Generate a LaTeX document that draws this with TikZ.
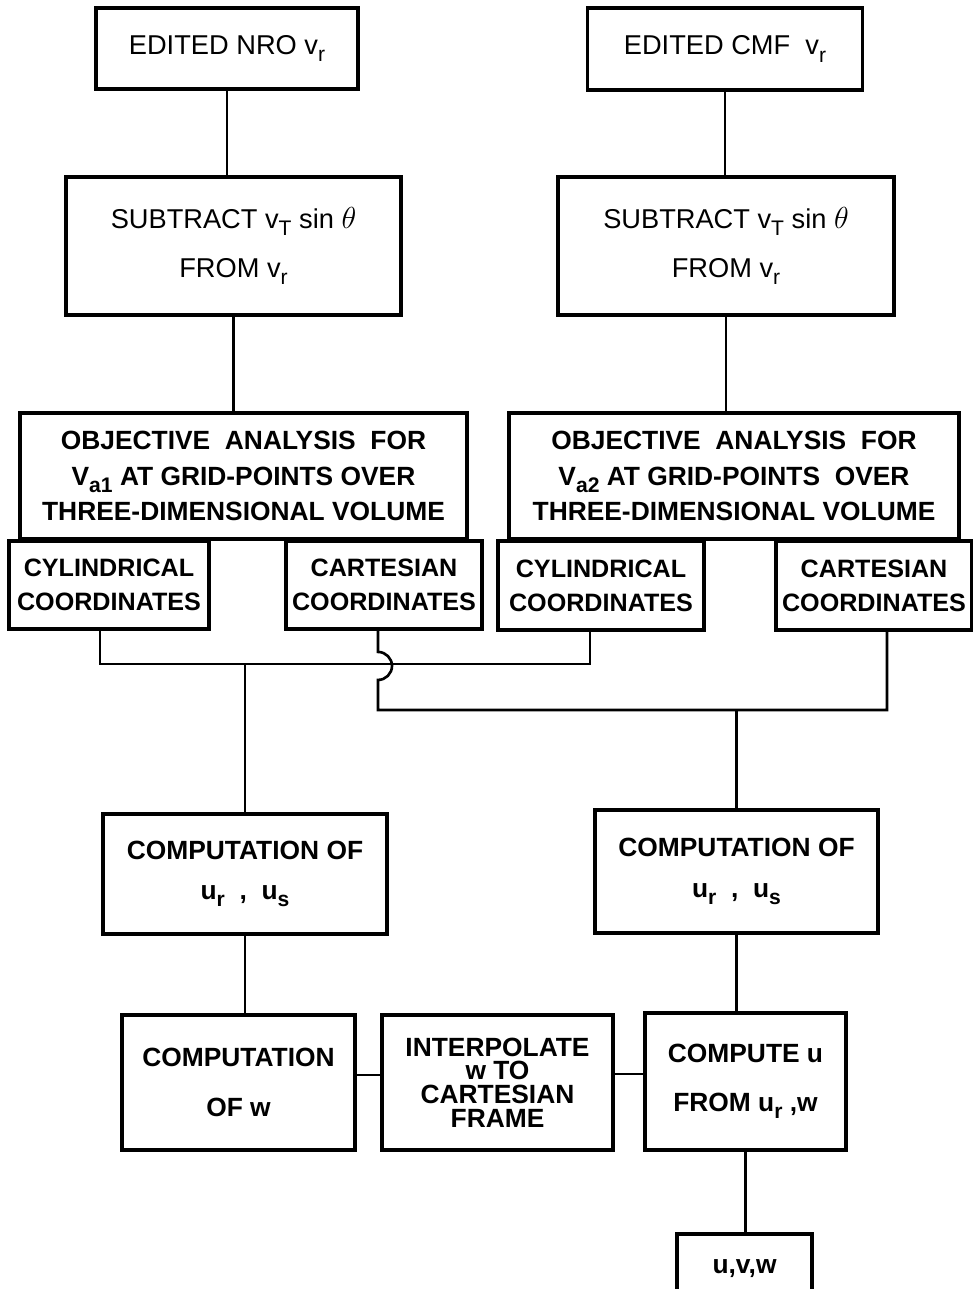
\documentclass[tikz,border=0pt]{standalone}
\usepackage{fontspec}
\newfontfamily\lettering{Liberation Sans}
\newcommand{\lsub}[2]{#1\raisebox{-0.5ex}{\fontsize{12}{12}\selectfont #2}}
\newcommand{\ltheta}{{\fontsize{19}{19}\selectfont$\theta$}}

\begin{document}
\begin{tikzpicture}[
  every node/.style={rectangle, sharp corners, align=center},
  box/.style={draw=black, line width=2.2pt, inner sep=2pt,
    font=\lettering\fontsize{15.5}{20}\selectfont},
  heavybox/.style={box, font=\lettering\bfseries\fontsize{15}{20}\selectfont},
  coordbox/.style={box, font=\lettering\bfseries\fontsize{14.3}{19.5}\selectfont},
  link/.style={line width=1.5pt, black}
]
\useasboundingbox (0,0) rectangle (19.46,-25.78);

%% Row 0: edited radial velocities
\node[box, minimum width=5.24cm, minimum height=1.62cm] (nro) at (4.54,-0.97)
  {EDITED NRO \lsub{v}{r}};
\node[box, minimum width=5.5cm, minimum height=1.64cm] (cmf) at (14.50,-0.98)
  {EDITED CMF \ \lsub{v}{r}};

%% Row 1: subtract storm motion
\node[box, minimum width=6.7cm, minimum height=2.76cm] (subl) at (4.67,-4.92)
  {SUBTRACT \lsub{v}{T} sin \ltheta\\[8pt] FROM \lsub{v}{r}};
\node[box, minimum width=6.72cm, minimum height=2.76cm] (subr) at (14.52,-4.92)
  {SUBTRACT \lsub{v}{T} sin \ltheta\\[8pt] FROM \lsub{v}{r}};

\draw[link] (nro.south) -- (nro.south |- subl.north);
\draw[link] (cmf.south) -- (cmf.south |- subr.north);

%% Row 2: objective analysis
\node[heavybox, minimum width=8.94cm, minimum height=2.52cm] (objl) at (4.87,-9.52)
  {OBJECTIVE \ ANALYSIS \ FOR\\ \lsub{V}{a1} AT GRID-POINTS OVER\\ THREE-DIMENSIONAL VOLUME};
\node[heavybox, minimum width=9.0cm, minimum height=2.52cm] (objr) at (14.68,-9.52)
  {OBJECTIVE \ ANALYSIS \ FOR\\ \lsub{V}{a2} AT GRID-POINTS \ OVER\\ THREE-DIMENSIONAL VOLUME};

\draw[link] (subl.south) -- (subl.south |- objl.north);
\draw[link] (subr.south) -- (subr.south |- objr.north);

%% Row 3: coordinate systems
\node[coordbox, minimum width=4.0cm, minimum height=1.76cm] (cyll) at (2.18,-11.70)
  {CYLINDRICAL\\ COORDINATES};
\node[coordbox, minimum width=3.92cm, minimum height=1.76cm] (cartl) at (7.68,-11.70)
  {CARTESIAN\\ COORDINATES};
\node[coordbox, minimum width=4.12cm, minimum height=1.78cm] (cylr) at (12.02,-11.71)
  {CYLINDRICAL\\ COORDINATES};
\node[coordbox, minimum width=3.92cm, minimum height=1.78cm] (cartr) at (17.48,-11.71)
  {CARTESIAN\\ COORDINATES};

%% Row 4: computation of u_r, u_s
\node[heavybox, minimum width=5.68cm, minimum height=2.40cm] (compl) at (4.90,-17.48)
  {COMPUTATION OF\\[3pt] \lsub{u}{r} \ , \ \lsub{u}{s}};
\node[heavybox, minimum width=5.66cm, minimum height=2.46cm] (compr) at (14.73,-17.43)
  {COMPUTATION OF\\[3pt] \lsub{u}{r} \ , \ \lsub{u}{s}};

%% merging the cylindrical outputs
\coordinate (cyljoin) at (4.90,-13.28);
\draw[link] ([xshift=-0.18cm]cyll.south) |- (cyljoin) -| ([xshift=-0.22cm]cylr.south);
\draw[link] (cyljoin) -- (compl.north);

%% merging the cartesian outputs (hop over the other line)
\coordinate (cartjoin) at (14.73,-14.2);
\draw[link] ([xshift=-0.12cm]cartl.south) -- ++(0,-0.42)
  arc[start angle=90, end angle=-90, radius=0.28] |- (cartjoin)
  -| ([xshift=0.26cm]cartr.south);
\draw[link] (cartjoin) -- (compr.north);

%% Row 5: w, interpolation, u
\node[heavybox, minimum width=4.66cm, minimum height=2.70cm] (compw) at (4.77,-21.65)
  {COMPUTATION\\[8pt] OF w};
\node[heavybox, minimum width=4.62cm, minimum height=2.70cm,
  font=\lettering\bfseries\fontsize{15}{13.5}\selectfont] (interp) at (9.95,-21.65)
  {INTERPOLATE\\ w TO\\ CARTESIAN\\ FRAME};
\node[heavybox, minimum width=4.02cm, minimum height=2.74cm] (compu) at (14.91,-21.63)
  {COMPUTE u\\[8pt] FROM \lsub{u}{r} ,w};

\draw[link] (compl.south) -- (compl.south |- compw.north);
\draw[link] (compr.south) -- (compr.south |- compu.north);
\draw[link] ([yshift=0.15cm]compw.east) -- ([yshift=0.15cm]compw.east -| interp.west);
\draw[link] ([yshift=0.17cm]interp.east) -- ([yshift=0.17cm]interp.east -| compu.west);

%% Row 6: result
\node[heavybox, minimum width=2.70cm, minimum height=1.40cm] (uvw) at (14.89,-25.38)
  {u,v,w};
\draw[link] (compu.south) -- (compu.south |- uvw.north);

\end{tikzpicture}
\end{document}
